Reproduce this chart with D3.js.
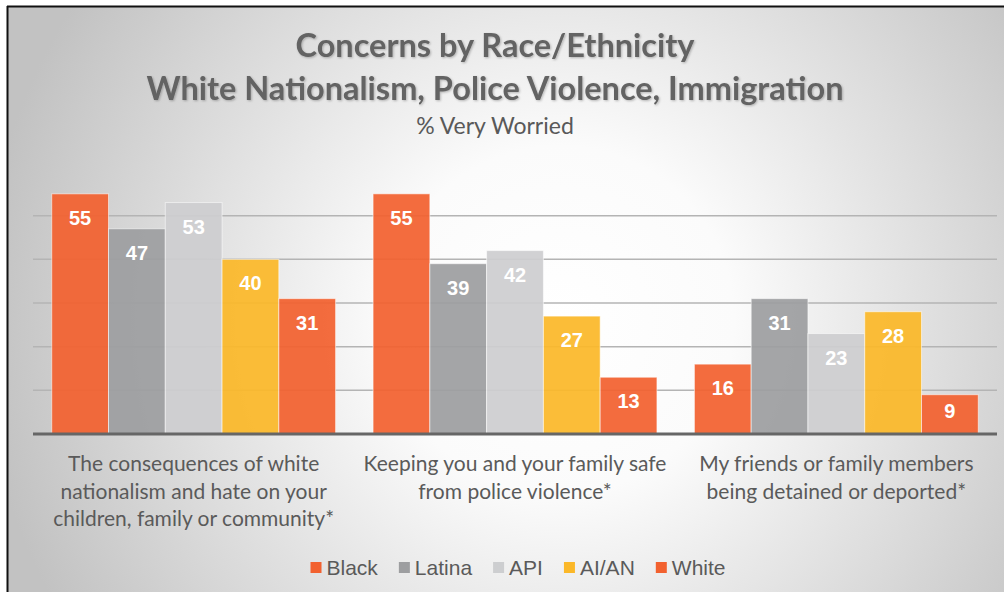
<!DOCTYPE html>
<html>
<head>
<meta charset="utf-8">
<script src="https://cdn.jsdelivr.net/npm/d3@7"></script>
<style>
  html, body { margin: 0; padding: 0; background: #fff; }
  svg { display: block; }
</style>
</head>
<body>
<svg id="chart" width="1004" height="592"></svg>
<script>
const categories = ['white nationalism', 'police violence', 'detained or deported'];
const categoryLines = [
  ['The consequences of white', 'nationalism and hate on your', 'children, family or community*'],
  ['Keeping you and your family safe', 'from police violence*'],
  ['My friends or family members', 'being detained or deported*']
];
const seriesNames = ['Black', 'Latina', 'API', 'AI/AN', 'White'];
const blackValues = [55, 55, 16];
const latinaValues = [47, 39, 31];
const apiValues = [53, 42, 23];
const aianValues = [40, 27, 28];
const whiteValues = [31, 13, 9];
const seriesColors = ['#f2612f', '#9d9ea0', '#cdced0', '#fbb829', '#f2612f'];
const gridTicks = [10, 20, 30, 40, 50];
const titleLines = ['Concerns by Race/Ethnicity', 'White Nationalism, Police Violence, Immigration'];
const subtitle = '% Very Worried';

const seriesValues = [blackValues, latinaValues, apiValues, aianValues, whiteValues];

const svg = d3.select('#chart');
const width = 1004, height = 592;
const plotLeft = 33, plotRight = 997, baseline = 434, plotTop = 172;
const titleX = 495;

// background
const defs = svg.append('defs');
const grad = defs.append('radialGradient')
  .attr('id', 'bg')
  .attr('gradientUnits', 'userSpaceOnUse')
  .attr('cx', 560).attr('cy', 320).attr('r', 580);
grad.append('stop').attr('offset', '0').attr('stop-color', '#ffffff');
grad.append('stop').attr('offset', '0.3').attr('stop-color', '#fbfbfb');
grad.append('stop').attr('offset', '1').attr('stop-color', '#c2c2c2');

const shadow = defs.append('filter').attr('id', 'tshadow')
  .attr('x', '-5%').attr('y', '-20%').attr('width', '110%').attr('height', '140%');
shadow.append('feDropShadow')
  .attr('dx', 1).attr('dy', 1).attr('stdDeviation', 0.8)
  .attr('flood-color', '#000').attr('flood-opacity', 0.25);

svg.append('rect').attr('width', width).attr('height', height).attr('fill', '#fff');
svg.append('rect')
  .attr('x', 7).attr('y', 6)
  .attr('width', width - 7).attr('height', height - 6)
  .attr('fill', 'url(#bg)');
svg.append('line').attr('x1', 7).attr('x2', width).attr('y1', 6.5).attr('y2', 6.5)
  .attr('stroke', '#111').attr('stroke-width', 2);
svg.append('line').attr('x1', 7.5).attr('x2', 7.5).attr('y1', 6).attr('y2', height)
  .attr('stroke', '#111').attr('stroke-width', 2);

// titles
const titleFont = 'Lato, "Noto Sans", sans-serif';
svg.selectAll('.title')
  .data(titleLines)
  .enter()
  .append('text')
  .attr('class', 'title')
  .attr('x', titleX)
  .attr('y', (d, i) => 57 + i * 43)
  .attr('text-anchor', 'middle')
  .attr('font-family', titleFont)
  .attr('font-weight', 700)
  .attr('font-size', 32.5)
  .attr('fill', '#636363')
  .attr('filter', 'url(#tshadow)')
  .text(d => d);

svg.append('text')
  .attr('x', titleX)
  .attr('y', 134)
  .attr('text-anchor', 'middle')
  .attr('font-family', titleFont)
  .attr('font-size', 23)
  .attr('fill', '#595959')
  .text(subtitle);

// scales
const x0 = d3.scaleBand()
  .domain(categories)
  .range([plotLeft, plotRight])
  .paddingInner(0)
  .paddingOuter(0);

const x1 = d3.scaleBand()
  .domain(seriesNames)
  .range([0, x0.bandwidth()])
  .paddingInner(0)
  .paddingOuter(0.33);

const y = d3.scaleLinear()
  .domain([0, 60])
  .range([baseline, plotTop]);

// gridlines
svg.append('g')
  .selectAll('line')
  .data(gridTicks)
  .enter()
  .append('line')
  .attr('x1', plotLeft).attr('x2', plotRight)
  .attr('y1', d => y(d)).attr('y2', d => y(d))
  .attr('stroke', '#b4b4b4')
  .attr('stroke-width', 1.5);

// bars
const rows = [];
categories.forEach((c, ci) => {
  seriesNames.forEach((s, si) => {
    rows.push({ category: c, series: s, value: seriesValues[si][ci], color: seriesColors[si] });
  });
});

const groups = svg.append('g');
groups.selectAll('rect')
  .data(rows)
  .enter()
  .append('rect')
  .attr('x', d => x0(d.category) + x1(d.series))
  .attr('y', d => y(d.value))
  .attr('width', x1.bandwidth())
  .attr('height', d => baseline - y(d.value))
  .attr('fill', d => d.color)
  .attr('fill-opacity', 0.93)
  .attr('stroke', 'rgba(255,255,255,0.55)')
  .attr('stroke-width', 1);

groups.selectAll('text')
  .data(rows)
  .enter()
  .append('text')
  .attr('x', d => x0(d.category) + x1(d.series) + x1.bandwidth() / 2)
  .attr('y', d => {
    const h = baseline - y(d.value);
    return h < 50 ? y(d.value) + h / 2 + 4 : y(d.value) + 31;
  })
  .attr('text-anchor', 'middle')
  .attr('font-family', '"Liberation Sans", Arial, sans-serif')
  .attr('font-weight', 700)
  .attr('font-size', 20)
  .attr('fill', '#ffffff')
  .text(d => d.value);

// baseline axis
svg.append('line')
  .attr('x1', plotLeft).attr('x2', plotRight)
  .attr('y1', baseline).attr('y2', baseline)
  .attr('stroke', '#666666')
  .attr('stroke-width', 3);

// category labels
const catLabels = svg.append('g')
  .selectAll('text')
  .data(categories)
  .enter()
  .append('text')
  .attr('x', d => x0(d) + x0.bandwidth() / 2)
  .attr('y', 471)
  .attr('text-anchor', 'middle')
  .attr('font-family', titleFont)
  .attr('font-size', 21)
  .attr('fill', '#5a5a5a');

catLabels.each(function (d, i) {
  d3.select(this).selectAll('tspan')
    .data(categoryLines[i])
    .enter()
    .append('tspan')
    .attr('x', x0(d) + x0.bandwidth() / 2)
    .attr('dy', (t, j) => j === 0 ? 0 : 27.5)
    .text(t => t);
});

// legend
const legend = svg.append('g');
const items = legend.selectAll('g')
  .data(seriesNames)
  .enter()
  .append('g');

items.append('rect')
  .attr('width', 11).attr('height', 11)
  .attr('y', 562)
  .attr('fill', (d, i) => seriesColors[i]);

items.append('text')
  .attr('x', 16)
  .attr('y', 575)
  .attr('font-family', '"Liberation Sans", Arial, sans-serif')
  .attr('font-size', 21)
  .attr('fill', '#5a5a5a')
  .text(d => d);

const widths = [];
items.each(function () {
  widths.push(16 + this.querySelector('text').getComputedTextLength());
});
const gap = 21;
const total = d3.sum(widths) + gap * (widths.length - 1);
let offset = (plotLeft + plotRight) / 2 + 3 - total / 2;
items.attr('transform', (d, i) => {
  const tx = offset;
  offset += widths[i] + gap;
  return `translate(${tx},0)`;
});
</script>
</body>
</html>
